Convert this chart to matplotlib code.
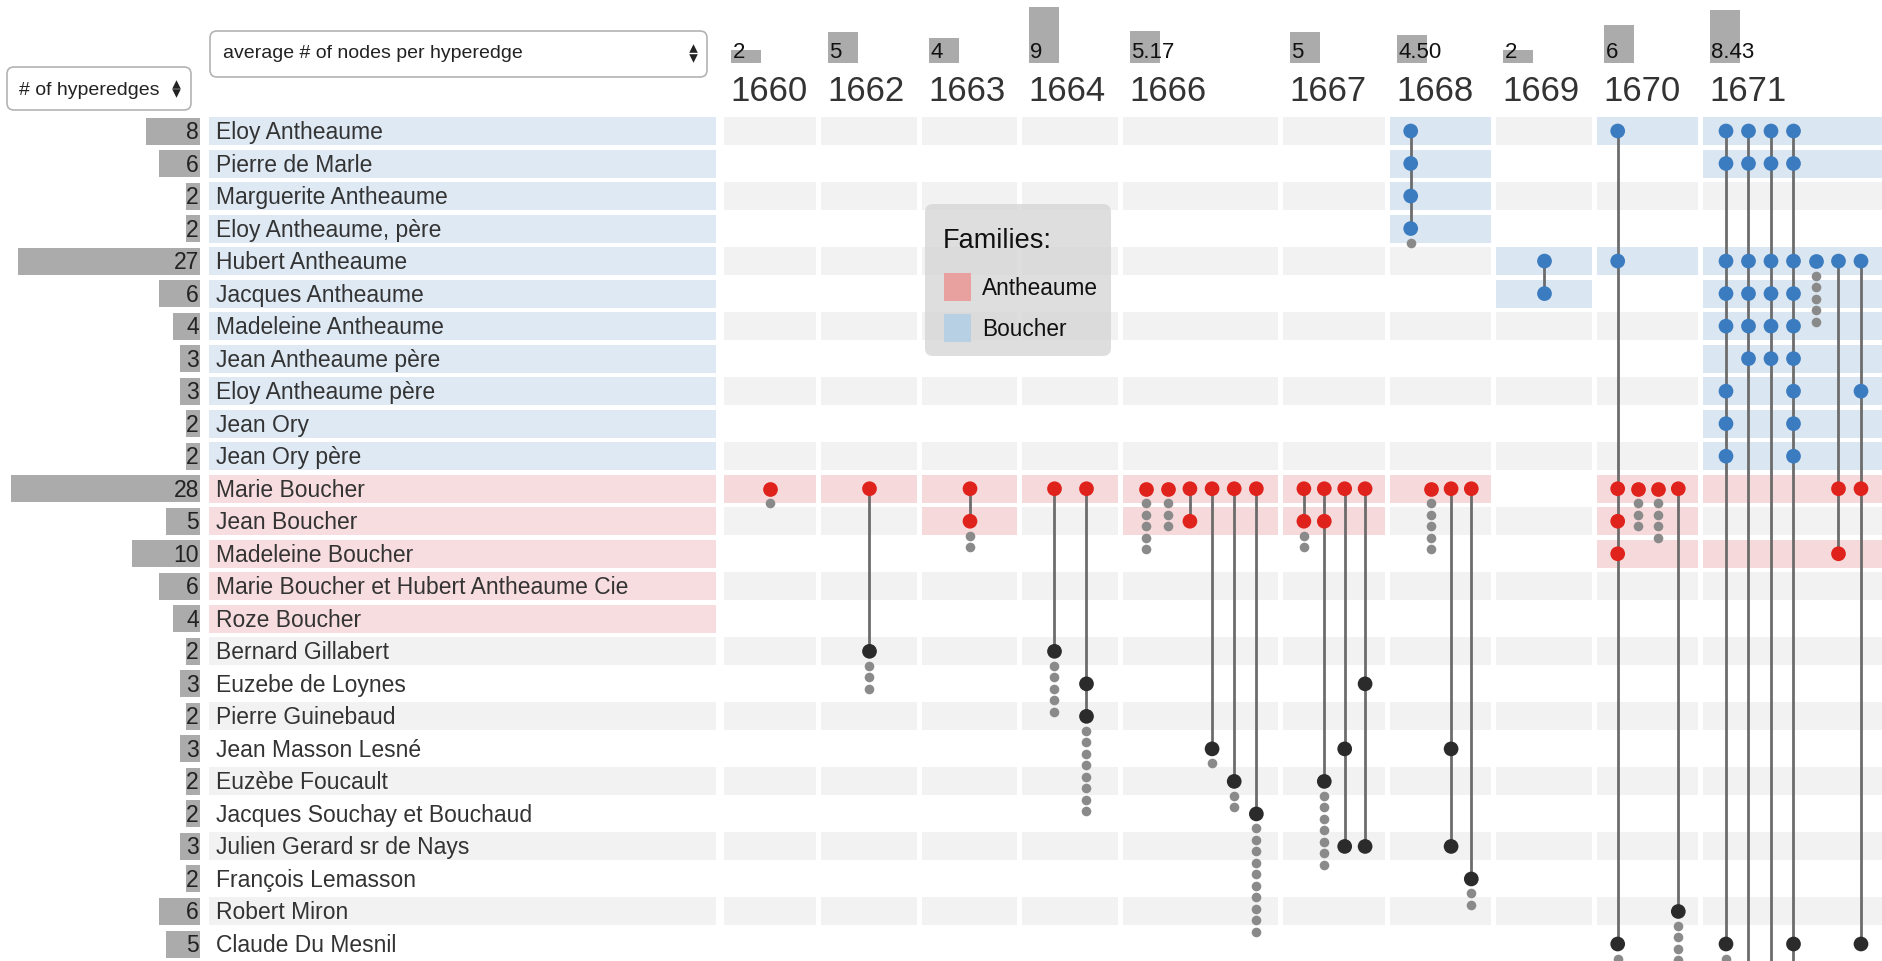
import matplotlib
matplotlib.use('Agg')
import matplotlib.pyplot as plt
from matplotlib.patches import FancyBboxPatch, Rectangle

plt.rcParams['font.family'] = ['Liberation Sans', 'DejaVu Sans']

# ---------------- data ----------------
names = [
    'Eloy Antheaume', 'Pierre de Marle', 'Marguerite Antheaume', 'Eloy Antheaume, père',
    'Hubert Antheaume', 'Jacques Antheaume', 'Madeleine Antheaume', 'Jean Antheaume père',
    'Eloy Antheaume père', 'Jean Ory', 'Jean Ory père', 'Marie Boucher', 'Jean Boucher',
    'Madeleine Boucher', 'Marie Boucher et Hubert Antheaume Cie', 'Roze Boucher',
    'Bernard Gillabert', 'Euzebe de Loynes', 'Pierre Guinebaud', 'Jean Masson Lesné',
    'Euzèbe Foucault', 'Jacques Souchay et Bouchaud', 'Julien Gerard sr de Nays',
    'François Lemasson', 'Robert Miron', 'Claude Du Mesnil',
]
n_hyperedges = [8, 6, 2, 2, 27, 6, 4, 3, 3, 2, 2, 28, 5, 10, 6, 4, 2, 3, 2, 3, 2, 2, 3, 2, 6, 5]
families = ['Boucher'] * 11 + ['Antheaume'] * 5 + [None] * 10

years = [1660, 1662, 1663, 1664, 1666, 1667, 1668, 1669, 1670, 1671]
avg_nodes = [2, 5, 4, 9, 5.17, 5, 4.50, 2, 6, 8.43]
avg_labels = ['2', '5', '4', '9', '5.17', '5', '4.50', '2', '6', '8.43']

# hyperedges of each year: (rows of the shown nodes, number of hidden nodes)
hyperedges = {
    1660: [([11], 1)],
    1662: [([11, 16], 3)],
    1663: [([11, 12], 2)],
    1664: [([11, 16], 5), ([11, 17, 18], 8)],
    1666: [([11], 5), ([11], 3), ([11, 12], 0), ([11, 19], 1), ([11, 20], 2), ([11, 21], 10)],
    1667: [([11, 12], 2), ([11, 12, 20], 7), ([11, 19, 22], 0), ([11, 17, 22], 0)],
    1668: [([0, 1, 2, 3], 1), ([11], 5), ([11, 19, 22], 0), ([11, 23], 2)],
    1669: [([4, 5], 0)],
    1670: [([0, 4, 11, 12, 13, 25], 2), ([11], 3), ([11], 4), ([11, 24], 5)],
    1671: [([0, 1, 4, 5, 6, 8, 9, 10, 25], 1), ([0, 1, 4, 5, 6, 7, 27], 4),
           ([0, 1, 4, 5, 6, 7, 28], 4), ([0, 1, 4, 5, 6, 7, 8, 9, 10, 25, 26], 3),
           ([4], 5), ([4, 11, 13], 0), ([4, 8, 11, 25], 0)],
}

# ---------------- layout / style ----------------
W, H = 1882, 962
ROW0, ROW_H, BAND_H = 132, 32.52, 28
COUNT_RIGHT, COUNT_UNIT = 200, 6.75
LABEL_X0, LABEL_X1 = 209, 716
COL_X0, COL_GAP = 724.5, 5
col_widths = [92, 96, 95, 96, 155, 102, 101, 96, 101, 180]
HEAD_BOTTOM, HEAD_UNIT = 64, 6.27

family_dot = {'Boucher': '#3b7bbf', 'Antheaume': '#e0221c', None: '#2b2b2b'}
family_cell = {'Boucher': '#dae6f1', 'Antheaume': '#f6d9da'}
family_label = {'Boucher': '#dee9f4', 'Antheaume': '#f7dddf'}
legend_swatch = {'Antheaume': '#e8a19f', 'Boucher': '#b8d0e3'}
GRAY_BAND = '#f2f2f2'
BAR_GRAY = '#ababab'


def row_y(r):
    return ROW0 + r * ROW_H


fig = plt.figure(figsize=(W / 100, H / 100), dpi=100)
ax = fig.add_axes([0, 0, 1, 1])
ax.set_xlim(0, W)
ax.set_ylim(H, 0)
ax.axis('off')

rows = list(range(len(names)))
ys = [row_y(r) for r in rows]

# left: number of hyperedges per node
widths = [c * COUNT_UNIT for c in n_hyperedges]
ax.barh(ys, widths, left=[COUNT_RIGHT - w for w in widths], height=27, color=BAR_GRAY, zorder=1)
for y, c in zip(ys, n_hyperedges):
    ax.text(COUNT_RIGHT - 1, y + 7, str(c), ha='right', va='baseline', fontsize=16.5, color='#222', zorder=3)

# node label bands and names
label_colors = []
for r, fam in zip(rows, families):
    if fam is not None:
        label_colors.append(family_label[fam])
    elif r % 2 == 0:
        label_colors.append(GRAY_BAND)
    else:
        label_colors.append('none')
ax.barh(ys, LABEL_X1 - LABEL_X0, left=LABEL_X0, height=BAND_H, color=label_colors, zorder=1)
for y, name in zip(ys, names):
    ax.text(LABEL_X0 + 7.5, y + 7, name, ha='left', va='baseline', fontsize=16.5, color='#333', zorder=3)

# time columns
starts = []
x = COL_X0
for w in col_widths:
    starts.append(x)
    x += w + COL_GAP

for yr, x0, cw, avg, lab in zip(years, starts, col_widths, avg_nodes, avg_labels):
    edges = hyperedges[yr]
    active = {r for members, _ in edges for r in members}

    # cells of the rows
    cell_y, cell_c = [], []
    for r, fam in zip(rows, families):
        if fam is not None and r in active:
            cell_y.append(row_y(r)); cell_c.append(family_cell[fam])
        elif r % 2 == 0:
            cell_y.append(row_y(r)); cell_c.append(GRAY_BAND)
    ax.barh(cell_y, cw, left=x0, height=BAND_H, color=cell_c, zorder=1)

    # header: average nodes per hyperedge and year
    bx = x0 + 7
    ax.bar([bx], [-avg * HEAD_UNIT], bottom=HEAD_BOTTOM, width=30, align='edge', color=BAR_GRAY, zorder=1)
    ax.text(bx + 1, 57.5, lab, ha='left', va='baseline', fontsize=16, color='#111', zorder=3)
    ax.text(bx - 1, 101, str(yr), ha='left', va='baseline', fontsize=25, color='#333', zorder=3)

    # hyperedges
    n = len(edges)
    for i, (members, hidden) in enumerate(edges):
        ex = x0 + (i + 1) * cw / (n + 1)
        my = [row_y(r) for r in members]
        if len(members) > 1:
            ax.plot([ex, ex], [min(my), max(my)], color='#6c6c6c', lw=2.0, zorder=3, solid_capstyle='butt')
        cols = [family_dot[families[r]] if r < len(families) else '#2b2b2b' for r in members]
        ax.scatter([ex] * len(members), my, s=112, c=cols, linewidths=0, zorder=4)
        if hidden:
            hy = [max(my) + 14.5 + k * 11.5 for k in range(hidden)]
            ax.scatter([ex] * hidden, hy, s=48, c='#8a8a8a', linewidths=0, zorder=4)

# selectors
ax.add_patch(FancyBboxPatch((7, 68), 184, 43, boxstyle='round,pad=0,rounding_size=7',
                            fc='white', ec='#b3b3b3', lw=1.2, zorder=2))
ax.text(19.5, 95, '# of hyperedges', ha='left', va='baseline', fontsize=14, color='#222', zorder=3)
ax.add_patch(FancyBboxPatch((210, 32), 497, 46, boxstyle='round,pad=0,rounding_size=7',
                            fc='white', ec='#b3b3b3', lw=1.2, zorder=2))
ax.text(223.5, 58, 'average # of nodes per hyperedge', ha='left', va='baseline', fontsize=14,
        color='#222', zorder=3)
ax.scatter([176, 693], [85, 49], marker='^', s=38, c='#222', linewidths=0, zorder=3)
ax.scatter([176, 693], [94, 59], marker='v', s=38, c='#222', linewidths=0, zorder=3)

# legend
ax.add_patch(FancyBboxPatch((925, 205), 186, 152, boxstyle='round,pad=0,rounding_size=8',
                            fc='#d6d6d6', ec='none', alpha=0.8, zorder=6))
ax.text(943, 248, 'Families:', ha='left', va='baseline', fontsize=19.5, color='#111', zorder=7)
for k, fam in enumerate(['Antheaume', 'Boucher']):
    top = 274 + k * 41
    ax.add_patch(Rectangle((944, top), 27, 28, fc=legend_swatch[fam], ec='none', zorder=7))
    ax.text(982, top + 21, fam, ha='left', va='baseline', fontsize=16.3, color='#111', zorder=7)

fig.savefig('out.png', dpi=100)
